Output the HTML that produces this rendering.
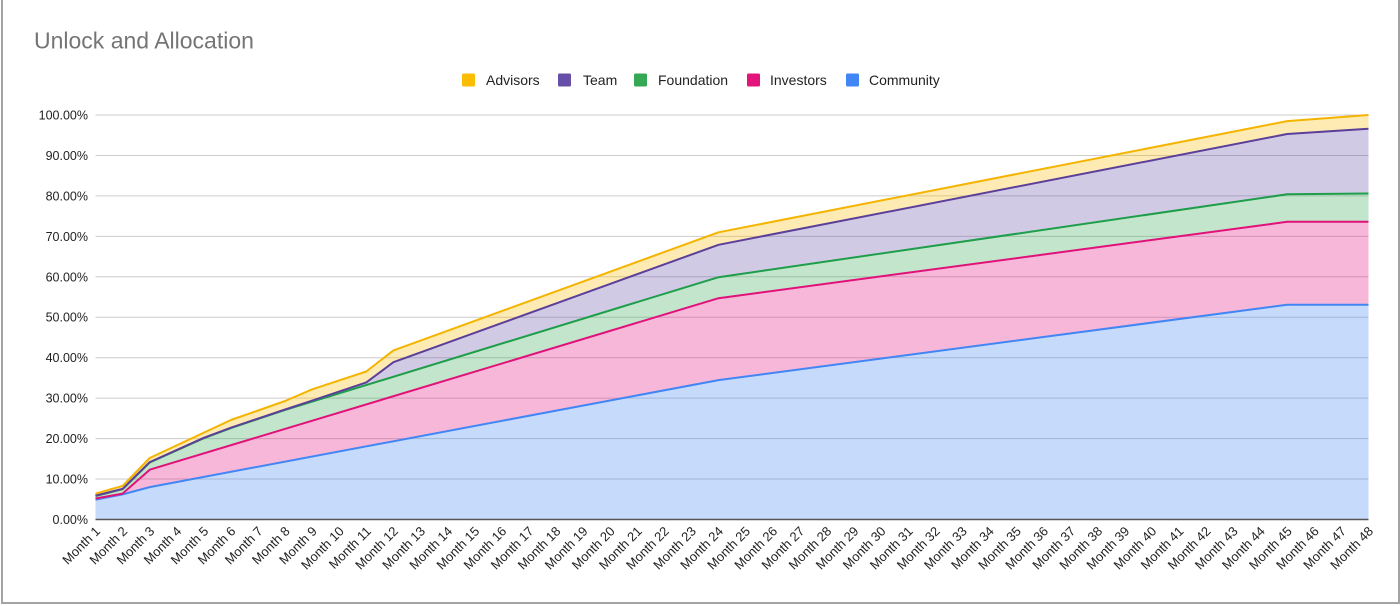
<!DOCTYPE html>
<html>
<head>
<meta charset="utf-8">
<style>
  html, body { margin:0; padding:0; background:#fff; }
  body { width:1400px; height:606px; overflow:hidden; }
  svg { display:block; }
  text { font-family: "Liberation Sans", Arial, sans-serif; }
</style>
</head>
<body>
<svg width="1400" height="606" viewBox="0 0 1400 606" xmlns="http://www.w3.org/2000/svg">
  <rect x="0" y="0" width="1400" height="606" fill="#ffffff"/>
  <!-- frame -->
  <rect x="1" y="0" width="2" height="604" fill="#a3a3a3"/>
  <rect x="1" y="602" width="1399" height="2" fill="#a3a3a3"/>
  <rect x="1398" y="0" width="2" height="604" fill="#a3a3a3"/>

  <!-- title -->
  <text x="34" y="48.5" font-size="23" fill="#757575">Unlock and Allocation</text>

  <!-- legend -->
  <g font-size="14" fill="#222">
    <rect x="462" y="73.5" width="13" height="13" rx="1.5" fill="#fbbc04"/>
    <text x="486" y="85">Advisors</text>
    <rect x="558" y="73.5" width="13" height="13" rx="1.5" fill="#674ea7"/>
    <text x="583" y="85">Team</text>
    <rect x="634" y="73.5" width="13" height="13" rx="1.5" fill="#34a853"/>
    <text x="658" y="85">Foundation</text>
    <rect x="747" y="73.5" width="13" height="13" rx="1.5" fill="#e3157c"/>
    <text x="770" y="85">Investors</text>
    <rect x="846" y="73.5" width="13" height="13" rx="1.5" fill="#4285f4"/>
    <text x="869" y="85">Community</text>
  </g>

  <!-- gridlines -->
  <g stroke="#cccccc" stroke-width="1">
    <line x1="95.5" y1="115" x2="1368.5" y2="115"/>
    <line x1="95.5" y1="155.45" x2="1368.5" y2="155.45"/>
    <line x1="95.5" y1="195.9" x2="1368.5" y2="195.9"/>
    <line x1="95.5" y1="236.35" x2="1368.5" y2="236.35"/>
    <line x1="95.5" y1="276.8" x2="1368.5" y2="276.8"/>
    <line x1="95.5" y1="317.25" x2="1368.5" y2="317.25"/>
    <line x1="95.5" y1="357.7" x2="1368.5" y2="357.7"/>
    <line x1="95.5" y1="398.15" x2="1368.5" y2="398.15"/>
    <line x1="95.5" y1="438.6" x2="1368.5" y2="438.6"/>
    <line x1="95.5" y1="479.05" x2="1368.5" y2="479.05"/>
  </g>

  <!-- y labels -->
  <g font-size="12.5" fill="#222" text-anchor="end">
    <text x="88" y="119.5">100.00%</text>
    <text x="88" y="160">90.00%</text>
    <text x="88" y="200.4">80.00%</text>
    <text x="88" y="240.8">70.00%</text>
    <text x="88" y="281.3">60.00%</text>
    <text x="88" y="321.7">50.00%</text>
    <text x="88" y="362.2">40.00%</text>
    <text x="88" y="402.6">30.00%</text>
    <text x="88" y="443.1">20.00%</text>
    <text x="88" y="483.5">10.00%</text>
    <text x="88" y="524">0.00%</text>
  </g>

  <!-- bands -->
  <g fill-opacity="0.3" stroke="none">
    <polygon fill="#fbbc04" points="95.5,493.6 122.6,485.9 149.7,458.0 230.9,420.0 285.1,401.0 312.2,389.3 366.3,371.5 393.4,350.4 718.5,232.3 1287.2,121.1 1368.5,115.0 1368.5,128.8 1287.2,134.0 718.5,244.8 393.4,362.2 366.3,382.4 312.2,400.6 285.1,409.5 230.9,427.7 203.8,437.8 149.7,462.1 122.6,488.8 95.5,495.6"/>
    <polygon fill="#674ea7" points="95.5,495.6 122.6,488.8 149.7,462.1 203.8,437.8 230.9,427.7 285.1,409.5 312.2,400.6 366.3,382.4 393.4,362.2 718.5,244.8 1287.2,134.0 1368.5,128.8 1368.5,193.5 1287.2,194.3 718.5,277.2 285.1,409.9 230.9,428.1 203.8,438.2 149.7,462.5 122.6,489.2 95.5,496.0"/>
    <polygon fill="#34a853" points="95.5,496.0 122.6,489.2 149.7,462.5 203.8,438.2 230.9,428.1 285.1,409.9 718.5,277.2 1287.2,194.3 1368.5,193.5 1368.5,221.8 1287.2,221.8 718.5,298.2 149.7,469.7 122.6,493.6 95.5,498.5"/>
    <polygon fill="#e6127d" points="95.5,498.5 122.6,493.6 149.7,469.7 718.5,298.2 1287.2,221.8 1368.5,221.8 1368.5,304.7 1287.2,304.7 718.5,380.1 149.7,487.1 122.6,494.4 95.5,499.7"/>
    <polygon fill="#4285f4" points="95.5,499.7 122.6,494.4 149.7,487.1 718.5,380.1 1287.2,304.7 1368.5,304.7 1368.5,519.5 95.5,519.5"/>
  </g>

  <!-- lines -->
  <g fill="none" stroke-width="2" stroke-linejoin="round">
    <polyline stroke="#4285f4" points="95.5,499.7 122.6,494.4 149.7,487.1 718.5,380.1 1287.2,304.7 1368.5,304.7"/>
    <polyline stroke="#e0127a" points="95.5,498.5 122.6,493.6 149.7,469.7 718.5,298.2 1287.2,221.8 1368.5,221.8"/>
    <polyline stroke="#1e9e4a" points="95.5,496.0 122.6,489.2 149.7,462.5 203.8,438.2 230.9,428.1 285.1,409.9 718.5,277.2 1287.2,194.3 1368.5,193.5"/>
    <polyline stroke="#5b3f99" points="95.5,495.6 122.6,488.8 149.7,462.1 203.8,437.8 230.9,427.7 285.1,409.5 312.2,400.6 366.3,382.4 393.4,362.2 718.5,244.8 1287.2,134.0 1368.5,128.8"/>
    <polyline stroke="#f4b400" points="95.5,493.6 122.6,485.9 149.7,458.0 230.9,420.0 285.1,401.0 312.2,389.3 366.3,371.5 393.4,350.4 718.5,232.3 1287.2,121.1 1368.5,115.0"/>
  </g>

  <!-- baseline -->
  <line x1="95.5" y1="519.5" x2="1368.5" y2="519.5" stroke="#555" stroke-width="1.5"/>

  <!-- x labels -->
  <g font-size="13" fill="#222" text-anchor="end">
    <text transform="translate(101,532) rotate(-45)">Month 1</text>
    <text transform="translate(128.1,532) rotate(-45)">Month 2</text>
    <text transform="translate(155.2,532) rotate(-45)">Month 3</text>
    <text transform="translate(182.3,532) rotate(-45)">Month 4</text>
    <text transform="translate(209.3,532) rotate(-45)">Month 5</text>
    <text transform="translate(236.4,532) rotate(-45)">Month 6</text>
    <text transform="translate(263.5,532) rotate(-45)">Month 7</text>
    <text transform="translate(290.6,532) rotate(-45)">Month 8</text>
    <text transform="translate(317.7,532) rotate(-45)">Month 9</text>
    <text transform="translate(344.8,532) rotate(-45)">Month 10</text>
    <text transform="translate(371.9,532) rotate(-45)">Month 11</text>
    <text transform="translate(398.9,532) rotate(-45)">Month 12</text>
    <text transform="translate(426.0,532) rotate(-45)">Month 13</text>
    <text transform="translate(453.1,532) rotate(-45)">Month 14</text>
    <text transform="translate(480.2,532) rotate(-45)">Month 15</text>
    <text transform="translate(507.3,532) rotate(-45)">Month 16</text>
    <text transform="translate(534.4,532) rotate(-45)">Month 17</text>
    <text transform="translate(561.4,532) rotate(-45)">Month 18</text>
    <text transform="translate(588.5,532) rotate(-45)">Month 19</text>
    <text transform="translate(615.6,532) rotate(-45)">Month 20</text>
    <text transform="translate(642.7,532) rotate(-45)">Month 21</text>
    <text transform="translate(669.8,532) rotate(-45)">Month 22</text>
    <text transform="translate(696.9,532) rotate(-45)">Month 23</text>
    <text transform="translate(724.0,532) rotate(-45)">Month 24</text>
    <text transform="translate(751.0,532) rotate(-45)">Month 25</text>
    <text transform="translate(778.1,532) rotate(-45)">Month 26</text>
    <text transform="translate(805.2,532) rotate(-45)">Month 27</text>
    <text transform="translate(832.3,532) rotate(-45)">Month 28</text>
    <text transform="translate(859.4,532) rotate(-45)">Month 29</text>
    <text transform="translate(886.5,532) rotate(-45)">Month 30</text>
    <text transform="translate(913.6,532) rotate(-45)">Month 31</text>
    <text transform="translate(940.6,532) rotate(-45)">Month 32</text>
    <text transform="translate(967.7,532) rotate(-45)">Month 33</text>
    <text transform="translate(994.8,532) rotate(-45)">Month 34</text>
    <text transform="translate(1021.9,532) rotate(-45)">Month 35</text>
    <text transform="translate(1049.0,532) rotate(-45)">Month 36</text>
    <text transform="translate(1076.1,532) rotate(-45)">Month 37</text>
    <text transform="translate(1103.1,532) rotate(-45)">Month 38</text>
    <text transform="translate(1130.2,532) rotate(-45)">Month 39</text>
    <text transform="translate(1157.3,532) rotate(-45)">Month 40</text>
    <text transform="translate(1184.4,532) rotate(-45)">Month 41</text>
    <text transform="translate(1211.5,532) rotate(-45)">Month 42</text>
    <text transform="translate(1238.6,532) rotate(-45)">Month 43</text>
    <text transform="translate(1265.7,532) rotate(-45)">Month 44</text>
    <text transform="translate(1292.7,532) rotate(-45)">Month 45</text>
    <text transform="translate(1319.8,532) rotate(-45)">Month 46</text>
    <text transform="translate(1346.9,532) rotate(-45)">Month 47</text>
    <text transform="translate(1374,532) rotate(-45)">Month 48</text>
  </g>
</svg>
</body>
</html>
